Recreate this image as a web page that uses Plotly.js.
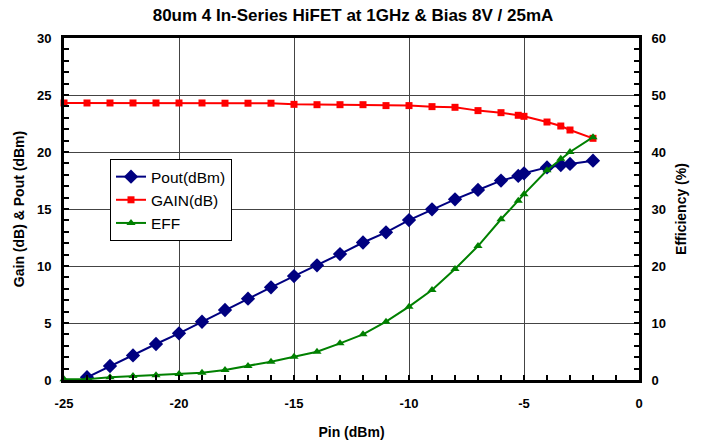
<!DOCTYPE html>
<html>
<head>
<meta charset="utf-8">
<script src="https://cdn.plot.ly/plotly-3.0.1.min.js"></script>
<style>html,body{margin:0;padding:0;background:#fff;}</style>
</head>
<body>
<div id="chart" style="width:706px;height:447px;"></div>
<script>
// Input power (dBm)
const pin = [-25, -24, -23, -22, -21, -20, -19, -18, -17, -16, -15, -14, -13, -12, -11, -10, -9, -8, -7, -6, -5.25, -5, -4, -3.4, -3, -2];
// Output power (dBm)
const pout = [-0.75, 0.24, 1.23, 2.16, 3.16, 4.09, 5.11, 6.14, 7.13, 8.13, 9.12, 10.06, 11.05, 12.06, 12.95, 14.03, 14.97, 15.85, 16.67, 17.49, 17.9, 18.13, 18.65, 18.86, 18.95, 19.24];
// Gain (dB)
const gain = [24.3, 24.3, 24.3, 24.3, 24.3, 24.3, 24.3, 24.28, 24.28, 24.28, 24.18, 24.15, 24.15, 24.15, 24.07, 24.07, 23.98, 23.92, 23.63, 23.45, 23.22, 23.13, 22.63, 22.28, 21.93, 21.2];
// Efficiency (%)
const eff = [0.12, 0.15, 0.47, 0.7, 0.82, 1.05, 1.29, 1.75, 2.46, 3.22, 4.09, 4.97, 6.43, 8.01, 10.23, 12.87, 15.79, 19.47, 23.5, 28.2, 31.46, 32.6, 36.8, 38.8, 40.0, 42.6];

// Tick labels
const xTickVals = [-25, -20, -15, -10, -5, 0];
const xTickText = ['-25', '-20', '-15', '-10', '-5', '0'];

const seriesNames = ['Pout(dBm)', 'GAIN(dB)', 'EFF'];
const chartTitle = '80um 4 In-Series HiFET at 1GHz &amp; Bias 8V / 25mA';
const xTitle = 'Pin (dBm)';
const yTitle = 'Gain (dB) &amp; Pout (dBm)';
const y2Title = 'Efficiency (%)';

const FONT = 'Liberation Sans, Arial, sans-serif';
const GRID = '#444';

const traces = [
  {x: pin, y: pout, name: seriesNames[0], type: 'scatter', mode: 'lines+markers',
   line: {color: '#000080', width: 2},
   marker: {symbol: 'diamond', size: 11, color: '#000080'},
   cliponaxis: true},
  {x: pin, y: gain, name: seriesNames[1], type: 'scatter', mode: 'lines+markers',
   line: {color: '#FF0000', width: 2},
   marker: {symbol: 'square', size: 7, color: '#FF0000'},
   cliponaxis: false},
  {x: pin, y: eff, name: seriesNames[2], type: 'scatter', mode: 'lines+markers', yaxis: 'y2',
   line: {color: '#008000', width: 2},
   marker: {symbol: 'triangle-up', size: 8, color: '#008000'},
   cliponaxis: false}
];

const layout = {
  width: 706, height: 447,
  margin: {l: 64, r: 67, t: 38, b: 67},
  paper_bgcolor: '#fff', plot_bgcolor: '#fff',
  font: {family: FONT, size: 13, color: '#000'},
  title: {text: chartTitle, font: {family: FONT, size: 17, weight: 'bold', color: '#000'},
          x: 0.5, xanchor: 'center', y: 0.966, yanchor: 'middle'},
  showlegend: true,
  legend: {x: 0.08, y: 0.646, xanchor: 'left', yanchor: 'top',
           bgcolor: '#fff', bordercolor: '#000', borderwidth: 1,
           font: {family: FONT, size: 15.5, color: '#000'}, tracegroupgap: 0},
  xaxis: {
    range: [-25, 0], tickmode: 'array', tickvals: xTickVals, ticktext: xTickText,
    showgrid: true, gridcolor: GRID, gridwidth: 1,
    zeroline: false,
    showline: true, linecolor: '#000', linewidth: 3, mirror: true,
    ticks: 'inside', ticklen: 5, tickcolor: '#000', tickwidth: 2,
    minor: {dtick: 1, ticks: 'inside', ticklen: 5, tickcolor: '#000', tickwidth: 2, showgrid: false},
    tickfont: {family: FONT, size: 13, weight: 'bold'},
    ticklabelstandoff: 9,
    title: {text: xTitle, font: {family: FONT, size: 14, weight: 'bold'}, standoff: 18}
  },
  yaxis: {
    range: [0, 30], dtick: 5,
    showgrid: true, gridcolor: GRID, gridwidth: 1,
    zeroline: false,
    showline: true, linecolor: '#000', linewidth: 3,
    ticks: 'inside', ticklen: 5, tickcolor: '#000', tickwidth: 2,
    minor: {dtick: 1, ticks: 'inside', ticklen: 5, tickcolor: '#000', tickwidth: 2, showgrid: false},
    tickfont: {family: FONT, size: 13, weight: 'bold'},
    ticklabelstandoff: 7,
    title: {text: yTitle, font: {family: FONT, size: 14, weight: 'bold'}, standoff: 10}
  },
  yaxis2: {
    range: [0, 60], dtick: 10, overlaying: 'y', side: 'right',
    showgrid: false, zeroline: false,
    showline: true, linecolor: '#000', linewidth: 3,
    ticks: 'inside', ticklen: 5, tickcolor: '#000', tickwidth: 2,
    minor: {dtick: 2, ticks: 'inside', ticklen: 5, tickcolor: '#000', tickwidth: 2, showgrid: false},
    tickfont: {family: FONT, size: 13, weight: 'bold'},
    ticklabelstandoff: 7,
    title: {text: y2Title, font: {family: FONT, size: 14, weight: 'bold'}, standoff: 12}
  }
};

Plotly.newPlot('chart', traces, layout, {displayModeBar: false, responsive: false});
</script>
</body>
</html>
